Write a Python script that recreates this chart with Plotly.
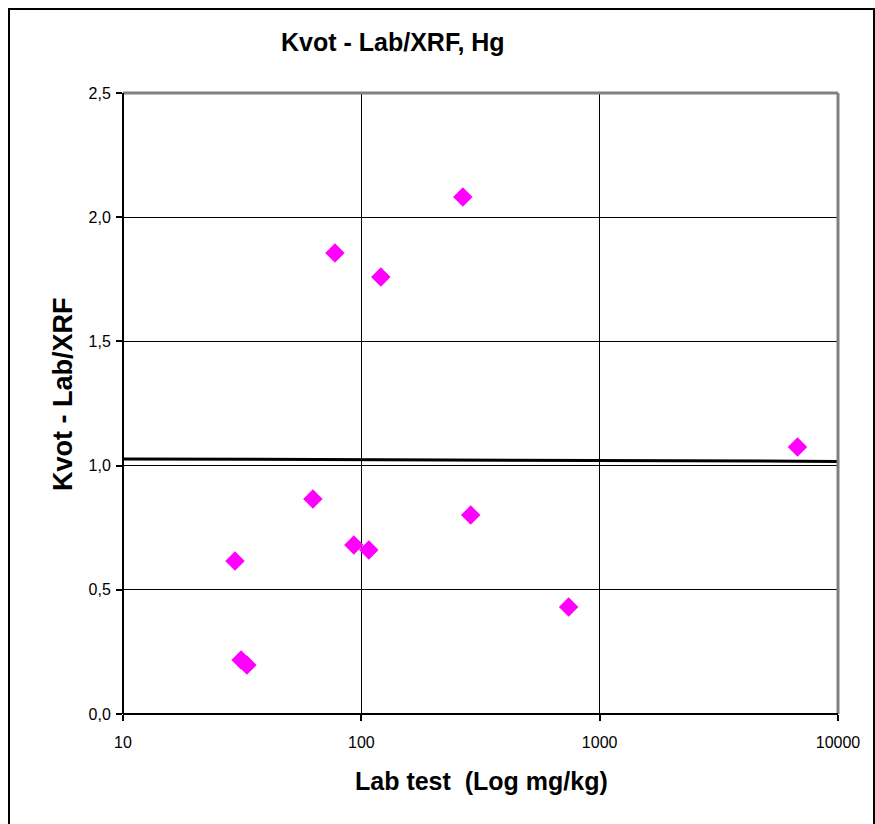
import plotly.graph_objects as go

lab_x = [29.5, 31.3, 33.1, 62.6, 77.5, 93, 107.5, 120.7, 266.5, 287.7, 741, 6761]
kvot_y = [0.616, 0.217, 0.197, 0.866, 1.856, 0.680, 0.660, 1.759, 2.081, 0.801, 0.431, 1.075]
trend_x = [10, 10000]
trend_y = [1.027, 1.017]
x_ticks = [10, 100, 1000, 10000]
x_tick_labels = ["10", "100", "1000", "10000"]
y_ticks = [0, 0.5, 1.0, 1.5, 2.0, 2.5]
y_tick_labels = ["0,0", "0,5", "1,0", "1,5", "2,0", "2,5"]

FONT = "Liberation Sans, Arial, sans-serif"
W, H = 875, 824
L, R, T, B = 123, 37, 93, 110
pw, ph = W - L - R, H - T - B

def px(x):
    return (x - L) / pw

def py(y):
    return (H - B - y) / ph

fig = go.Figure()
fig.add_trace(go.Scatter(x=trend_x, y=trend_y, mode="lines",
                         line=dict(color="black", width=3), hoverinfo="skip",
                         showlegend=False))
fig.add_trace(go.Scatter(x=lab_x, y=kvot_y, mode="markers",
                         marker=dict(symbol="diamond", size=15, color="#FF00FF"),
                         showlegend=False))

shapes = [
    dict(type="rect", xref="paper", yref="paper", x0=px(9), x1=px(874), y0=py(830), y1=py(9),
         line=dict(color="black", width=2), layer="below"),
    dict(type="line", xref="paper", yref="paper", x0=0, x1=1, y0=1, y1=1,
         line=dict(color="#808080", width=3)),
    dict(type="line", xref="paper", yref="paper", x0=1, x1=1, y0=0, y1=1,
         line=dict(color="#808080", width=3)),
    dict(type="line", xref="paper", yref="paper", x0=0, x1=0, y0=0, y1=1,
         line=dict(color="black", width=2)),
    dict(type="line", xref="paper", yref="paper", x0=0, x1=1, y0=0, y1=0,
         line=dict(color="black", width=2)),
]

annotations = [
    dict(text="<b>Kvot - Lab/XRF, Hg</b>", xref="paper", yref="paper", x=px(393), y=py(42),
         xanchor="center", yanchor="middle", showarrow=False, font=dict(size=25, family=FONT)),
    dict(text="<b>Lab test\u00a0\u00a0(Log mg/kg)</b>", xref="paper", yref="paper", x=px(481), y=py(781),
         xanchor="center", yanchor="middle", showarrow=False, font=dict(size=25, family=FONT)),
    dict(text="<b>Kvot - Lab/XRF</b>", xref="paper", yref="paper", x=px(63), y=py(394),
         xanchor="center", yanchor="middle", showarrow=False, textangle=-90,
         font=dict(size=27, family=FONT)),
]

fig.update_layout(
    width=W, height=H,
    margin=dict(l=L, r=R, t=T, b=B),
    paper_bgcolor="white", plot_bgcolor="white",
    font=dict(family=FONT, color="black"),
    shapes=shapes,
    annotations=annotations,
    xaxis=dict(type="log", range=[1, 4], tickvals=x_ticks, ticktext=x_tick_labels,
               showgrid=True, gridcolor="black", gridwidth=1, zeroline=False,
               ticks="outside", ticklen=6, tickcolor="black", tickwidth=2,
               ticklabelstandoff=8,
               tickfont=dict(size=16, family=FONT)),
    yaxis=dict(range=[0, 2.5], tickvals=y_ticks, ticktext=y_tick_labels,
               showgrid=True, gridcolor="black", gridwidth=1, zeroline=False,
               ticks="outside", ticklen=6, tickcolor="black", tickwidth=2,
               ticklabelstandoff=2,
               tickfont=dict(size=16, family=FONT)),
)

fig.write_html("out.html")
